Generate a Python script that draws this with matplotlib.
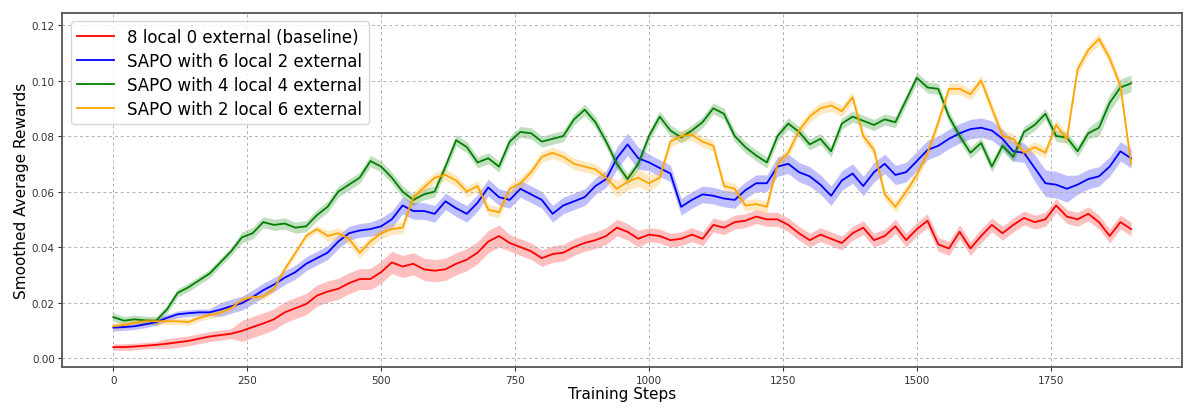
import numpy as np
import matplotlib
matplotlib.use("Agg")
import matplotlib.pyplot as plt

steps = list(range(0, 1901, 20))

labels = ["8 local 0 external (baseline)", "SAPO with 6 local 2 external",
          "SAPO with 4 local 4 external", "SAPO with 2 local 6 external"]
colors = ["red", "blue", "green", "orange"]

red = [0.0040, 0.0040, 0.0042, 0.0045, 0.0048, 0.0052, 0.0057, 0.0062, 0.0070, 0.0078,
       0.0083, 0.0088, 0.0098, 0.0112, 0.0125, 0.0140, 0.0165, 0.0180, 0.0195, 0.0225,
       0.0240, 0.0250, 0.0270, 0.0285, 0.0285, 0.0310, 0.0345, 0.0330, 0.0340, 0.0320,
       0.0315, 0.0320, 0.0340, 0.0355, 0.0380, 0.0420, 0.0440, 0.0415, 0.0400, 0.0385,
       0.0360, 0.0375, 0.0380, 0.0400, 0.0415, 0.0425, 0.0440, 0.0470, 0.0455, 0.0430,
       0.0445, 0.0440, 0.0425, 0.0430, 0.0445, 0.0430, 0.0480, 0.0470, 0.0490, 0.0495,
       0.0510, 0.0500, 0.0500, 0.0480, 0.0450, 0.0425, 0.0445, 0.0430, 0.0415, 0.0450,
       0.0470, 0.0425, 0.0440, 0.0475, 0.0425, 0.0465, 0.0495, 0.0410, 0.0395, 0.0455,
       0.0395, 0.0440, 0.0480, 0.0450, 0.0480, 0.0505, 0.0490, 0.0500, 0.0550, 0.0510,
       0.0500, 0.0520, 0.0490, 0.0440, 0.0490, 0.0465]

blue = [0.0110, 0.0112, 0.0115, 0.0122, 0.0130, 0.0145, 0.0158, 0.0162, 0.0165, 0.0165,
        0.0175, 0.0187, 0.0198, 0.0220, 0.0245, 0.0265, 0.0290, 0.0310, 0.0340, 0.0360,
        0.0380, 0.0420, 0.0450, 0.0460, 0.0465, 0.0475, 0.0500, 0.0550, 0.0530, 0.0530,
        0.0520, 0.0565, 0.0540, 0.0520, 0.0560, 0.0615, 0.0580, 0.0570, 0.0610, 0.0590,
        0.0570, 0.0520, 0.0550, 0.0565, 0.0580, 0.0620, 0.0645, 0.0720, 0.0770, 0.0720,
        0.0705, 0.0685, 0.0665, 0.0545, 0.0570, 0.0590, 0.0585, 0.0575, 0.0570, 0.0605,
        0.0630, 0.0630, 0.0690, 0.0700, 0.0670, 0.0655, 0.0625, 0.0585, 0.0640, 0.0665,
        0.0620, 0.0670, 0.0700, 0.0660, 0.0670, 0.0710, 0.0750, 0.0765, 0.0790, 0.0810,
        0.0825, 0.0830, 0.0820, 0.0790, 0.0745, 0.0740, 0.0685, 0.0630, 0.0625, 0.0610,
        0.0625, 0.0645, 0.0655, 0.0690, 0.0745, 0.0720]

green = [0.0148, 0.0135, 0.0140, 0.0136, 0.0135, 0.0175, 0.0235, 0.0255, 0.0280, 0.0305,
         0.0345, 0.0385, 0.0435, 0.0450, 0.0490, 0.0480, 0.0485, 0.0470, 0.0475, 0.0515,
         0.0545, 0.0600, 0.0625, 0.0650, 0.0710, 0.0690, 0.0650, 0.0600, 0.0570, 0.0590,
         0.0600, 0.0690, 0.0785, 0.0760, 0.0705, 0.0720, 0.0690, 0.0780, 0.0815, 0.0810,
         0.0780, 0.0790, 0.0800, 0.0860, 0.0895, 0.0850, 0.0780, 0.0700, 0.0645, 0.0700,
         0.0800, 0.0870, 0.0820, 0.0795, 0.0820, 0.0850, 0.0900, 0.0880, 0.0800, 0.0760,
         0.0730, 0.0705, 0.0800, 0.0845, 0.0815, 0.0770, 0.0790, 0.0745, 0.0845, 0.0870,
         0.0855, 0.0840, 0.0860, 0.0850, 0.0930, 0.1010, 0.0975, 0.0970, 0.0870, 0.0800,
         0.0740, 0.0775, 0.0690, 0.0765, 0.0725, 0.0815, 0.0840, 0.0880, 0.0800, 0.0795,
         0.0745, 0.0810, 0.0830, 0.0920, 0.0975, 0.0990]

orange = [0.0115, 0.0120, 0.0128, 0.0133, 0.0133, 0.0133, 0.0133, 0.0130, 0.0145, 0.0155,
          0.0165, 0.0180, 0.0210, 0.0220, 0.0222, 0.0250, 0.0320, 0.0380, 0.0440, 0.0465,
          0.0440, 0.0450, 0.0430, 0.0380, 0.0420, 0.0450, 0.0465, 0.0470, 0.0580, 0.0615,
          0.0650, 0.0660, 0.0640, 0.0600, 0.0620, 0.0535, 0.0525, 0.0610, 0.0630, 0.0670,
          0.0725, 0.0740, 0.0725, 0.0700, 0.0690, 0.0680, 0.0650, 0.0610, 0.0635, 0.0650,
          0.0630, 0.0650, 0.0780, 0.0800, 0.0805, 0.0780, 0.0765, 0.0620, 0.0610, 0.0550,
          0.0555, 0.0545, 0.0700, 0.0740, 0.0820, 0.0870, 0.0900, 0.0910, 0.0890, 0.0940,
          0.0800, 0.0750, 0.0590, 0.0545, 0.0600, 0.0660, 0.0740, 0.0850, 0.0970, 0.0970,
          0.0950, 0.1000, 0.0900, 0.0800, 0.0790, 0.0740, 0.0760, 0.0740, 0.0840, 0.0790,
          0.1040, 0.1110, 0.1150, 0.1080, 0.0980, 0.0700]

# half-width of the shaded band around each curve
red_band = [0.0012] * 5 + [0.0018] * 7 + [0.0038] * 13 + [0.0040] * 12 + [0.0030] * 13 + [0.0025] * 46
blue_band = [0.0012] * 10 + [0.0025] * 15 + [0.0030] * 22 + [0.0040] * 3 + [0.0030] * 12 + [0.0035] * 24 + [0.0048] * 4 + [0.0035] * 6
green_band = [0.0015] * 12 + [0.0020] * 80 + [0.0030] * 4
orange_band = [0.0012] * 20 + [0.0020] * 27 + [0.0030] * 4 + [0.0020] * 45

series = [red, blue, green, orange]
bands = [red_band, blue_band, green_band, orange_band]

fig = plt.figure(figsize=(12, 4.14), dpi=100)
ax = fig.add_axes([0.052, 0.111, 0.933, 0.855])

x = np.array(steps)
for y, b, c, lab in zip(series, bands, colors, labels):
    y = np.array(y)
    b = np.array(b)
    ax.fill_between(x, y - b, y + b, color=c, alpha=0.25, linewidth=0)
    ax.plot(x, y, color=c, linewidth=1.3, label=lab)

ax.set_ylim(-0.0032, 0.1243)
ax.set_xticks([0, 250, 500, 750, 1000, 1250, 1500, 1750])
ax.set_yticks([0.00, 0.02, 0.04, 0.06, 0.08, 0.10, 0.12])
ax.yaxis.set_major_formatter(matplotlib.ticker.FormatStrFormatter('%.2f'))
ax.tick_params(labelsize=7.5, colors='#333333', pad=2.5, length=3)
ax.grid(True, linestyle=(0, (3, 3)), color='#b0b0b0', linewidth=0.7)
for s in ax.spines.values():
    s.set_color('#555555')
    s.set_linewidth(1.3)
ax.set_xlabel("Training Steps", fontsize=11, labelpad=1)
ax.set_ylabel("Smoothed Average Rewards", fontsize=11, labelpad=2)
ax.legend(loc='upper left', fontsize=12, labelspacing=0.35, handlelength=2.2,
          borderaxespad=0.5, framealpha=0.8)

fig.savefig("out.png", dpi=100)
